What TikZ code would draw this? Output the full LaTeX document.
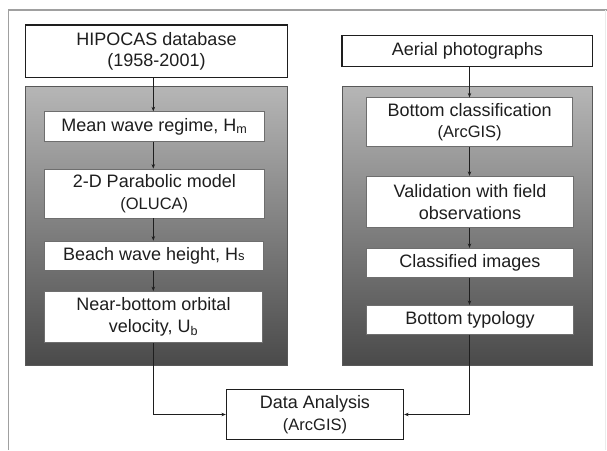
\documentclass[tikz,border=0pt]{standalone}
\usepackage{fontspec}
\setmainfont{Liberation Sans}
\usetikzlibrary{arrows.meta}
\definecolor{inkc}{HTML}{1E1E1E}
\definecolor{framec}{HTML}{A0A0A0}
\definecolor{boxline}{HTML}{6E6E6E}
\definecolor{paneltop}{HTML}{B6B6B6}
\definecolor{panelbot}{HTML}{4A4A4A}
\newcommand{\bigtxt}{\fontsize{18}{21.5}\selectfont}
\newcommand{\smalltxt}{\fontsize{16.5}{19}\selectfont}
\tikzset{
  headbox/.style={draw=inkc, line width=1.4pt, fill=white, inner sep=0pt,
    align=center, text=inkc, font=\bigtxt},
  stagebox/.style={draw=boxline, line width=0.8pt, fill=white, inner sep=0pt,
    align=center, text=inkc, font=\bigtxt},
  panel/.style={draw=boxline!80!black, line width=0.6pt, top color=paneltop,
    bottom color=panelbot},
  flow/.style={draw=inkc, line width=0.8pt,
    -{Stealth[length=4.5pt,width=3.5pt]}},
}
\begin{document}
\begin{tikzpicture}[x=1pt,y=-1pt]
\useasboundingbox (0,0) rectangle (607,450);
\fill[white] (0,0) rectangle (607,450);

% page frame
\draw[framec, line width=1.4pt] (8.3,450) -- (8.3,10) -- (607,10);
\draw[black!8, line width=0.8pt] (605.7,10) -- (605.7,450);

% shaded panels
\draw[panel] (25.5,86) rectangle (287.5,365.7);
\draw[panel] (342,86) rectangle (592.5,365.7);

% columns of the two flows
\coordinate (lc) at (153.3,0);
\coordinate (rc) at (469.5,0);

% left flow
\node[headbox, minimum width=262pt, minimum height=52.7pt] (hip) at (156.5,51.3)
  {HIPOCAS database\\(1958-2001)};
\node[stagebox, minimum width=219.8pt, minimum height=29.6pt] (mw) at (154.4,126.5)
  {Mean wave regime, H\textsubscript{m}};
\node[stagebox, minimum width=219.5pt, minimum height=49pt] (pm) at (154.3,193.5)
  {2-D Parabolic model\\{\smalltxt (OLUCA)}};
\node[stagebox, minimum width=218.8pt, minimum height=29.5pt] (bw) at (153.9,255.8)
  {Beach wave height, H{\fontsize{13}{13}\selectfont s}};
\node[stagebox, minimum width=218pt, minimum height=51pt] (nb) at (153.5,317)
  {Near-bottom orbital\\velocity, U\textsubscript{b}};

% right flow
\node[headbox, minimum width=250.5pt, minimum height=31pt] (ap) at (467.3,50.7)
  {Aerial photographs};
\node[stagebox, minimum width=205.8pt, minimum height=49pt] (bc) at (469.6,122.3)
  {Bottom classification\\{\smalltxt (ArcGIS)}};
\node[stagebox, minimum width=206.6pt, minimum height=51.5pt] (vf) at (470,202)
  {Validation with field\\observations};
\node[stagebox, minimum width=206.6pt, minimum height=29.2pt] (ci) at (470,262.9)
  {Classified images};
\node[stagebox, minimum width=206.6pt, minimum height=29pt] (bt) at (470,319.8)
  {Bottom typology};

% joint analysis
\node[headbox, minimum width=176.9pt, minimum height=49.9pt] (da) at (315,414.5)
  {Data Analysis\\{\smalltxt (ArcGIS)}};

% connectors
\draw[flow] (lc |- hip.south) -- (lc |- mw.north);
\draw[flow] (lc |- mw.south) -- (lc |- pm.north);
\draw[flow] (lc |- pm.south) -- (lc |- bw.north);
\draw[flow] (lc |- bw.south) -- (lc |- nb.north);
\draw[flow] (rc |- ap.south) -- (rc |- bc.north);
\draw[flow] (rc |- bc.south) -- (rc |- vf.north);
\draw[flow] (rc |- vf.south) -- (rc |- ci.north);
\draw[flow] (rc |- ci.south) -- (rc |- bt.north);
\draw[flow] (lc |- nb.south) |- (da.west);
\draw[flow] (rc |- bt.south) |- (da.east);
\end{tikzpicture}
\end{document}
